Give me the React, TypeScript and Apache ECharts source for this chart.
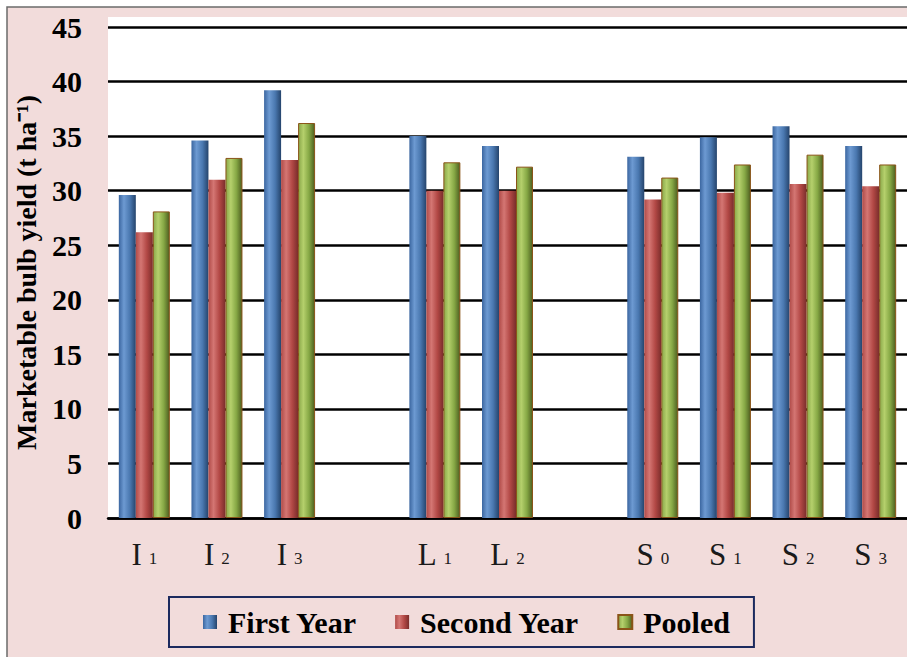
import React, { useEffect, useRef } from "react";
import * as echarts from "echarts";

const categories = ["I1", "I2", "I3", "", "L1", "L2", "", "S0", "S1", "S2", "S3"];
const firstYear = [29.6, 34.6, 39.2, null, 35.0, 34.1, null, 33.1, 34.9, 35.9, 34.1];
const secondYear = [26.2, 31.0, 32.8, null, 30.0, 30.0, null, 29.2, 29.8, 30.6, 30.4];
const pooled = [28.1, 33.0, 36.2, null, 32.6, 32.2, null, 31.2, 32.4, 33.3, 32.4];
const seriesNames = ["First Year", "Second Year", "Pooled"];
const yTicks = { min: 0, max: 45, interval: 5 };

const serif = "'Liberation Serif', 'Times New Roman', serif";

function cyl(stops: string[]) {
  return new echarts.graphic.LinearGradient(1, 0, 0, 0, [
    { offset: 0, color: stops[0] },
    { offset: 0.35, color: stops[1] },
    { offset: 0.7, color: stops[2] },
    { offset: 1, color: stops[3] },
  ]);
}

export default function App() {
  const ref = useRef<HTMLDivElement>(null);
  useEffect(() => {
    if (!ref.current) return;
    const chart = echarts.init(ref.current, null, { renderer: "svg" });
    const barW = 17;
    const option: any = {
      animation: false,
      backgroundColor: "#ffffff",
      graphic: [
        {
          type: "rect",
          z: -100,
          zlevel: 0,
          silent: true,
          shape: { x: 7, y: 7, width: 920, height: 670 },
          style: { fill: "#f2dcdb", stroke: "#6b6b6b", lineWidth: 1.5 },
        },
        {
          type: "rect",
          z: -99,
          zlevel: 0,
          silent: true,
          shape: { x: 108, y: 17, width: 820, height: 501 },
          style: { fill: "#ffffff" },
        },
      ],
      grid: { left: 108, right: -10, top: 27, bottom: 139, containLabel: false },
      legend: {
        left: 169,
        top: 597,
        orient: "horizontal",
        data: seriesNames,
        icon: "rect",
        itemWidth: 14,
        itemHeight: 14,
        itemGap: 38,
        borderColor: "#1c2a5e",
        borderWidth: 2,
        padding: [10, 24, 10, 34],
        textStyle: {
          fontFamily: serif,
          fontWeight: "bold",
          fontSize: 30,
          color: "#000",
          padding: [0, 0, 0, 6],
        },
      },
      xAxis: {
        type: "category",
        data: categories,
        axisLine: { lineStyle: { color: "#000", width: 2.5 } },
        axisTick: { show: false },
        axisLabel: {
          interval: 0,
          margin: 21,
          formatter: (v: string) => (v ? `{a|${v[0]}}{b|${v.slice(1)}}` : ""),
          rich: {
            a: { fontFamily: serif, fontSize: 31, color: "#1a1a1a" },
            b: { fontFamily: serif, fontSize: 17, color: "#1a1a1a", padding: [8, 0, 0, 7] },
          },
        },
      },
      yAxis: {
        type: "value",
        min: yTicks.min,
        max: yTicks.max,
        interval: yTicks.interval,
        name: "Marketable bulb yield (t ha⁻¹)",
        nameLocation: "middle",
        nameGap: 68,
        nameRotate: 90,
        nameTextStyle: {
          fontFamily: serif,
          fontWeight: "bold",
          fontSize: 28,
          color: "#000",
        },
        axisLine: { show: false },
        axisTick: { show: false },
        axisLabel: {
          margin: 26,
          fontFamily: serif,
          fontWeight: "bold",
          fontSize: 30,
          color: "#000",
        },
        splitLine: { lineStyle: { color: "#000", width: 2.5 } },
      },
      series: [
        {
          name: seriesNames[0],
          type: "bar",
          data: firstYear,
          barWidth: barW,
          barGap: "0%",
          itemStyle: {
            color: cyl(["#25446c", "#4a78b0", "#6d9ad2", "#3b66a0"]),
          },
        },
        {
          name: seriesNames[1],
          type: "bar",
          data: secondYear,
          barWidth: barW,
          barGap: "0%",
          itemStyle: {
            color: cyl(["#7a2d2b", "#b24845", "#d47673", "#b04b48"]),
          },
        },
        {
          name: seriesNames[2],
          type: "bar",
          data: pooled,
          barWidth: barW,
          barGap: "0%",
          itemStyle: {
            color: cyl(["#4e5f20", "#86a845", "#b5d06c", "#8aa84a"]),
            borderColor: "#8a5418",
            borderWidth: 1,
          },
        },
      ],
    };
    chart.setOption(option);
    return () => chart.dispose();
  }, []);
  return (
    <div
      ref={ref}
      style={{ position: "fixed", left: 0, top: 0, width: 907, height: 657 }}
    />
  );
}
